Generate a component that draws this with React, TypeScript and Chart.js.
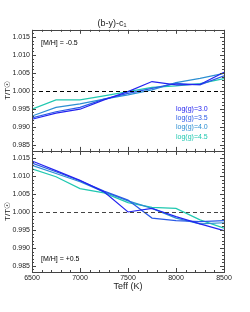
import React, { useEffect, useRef } from "react";
import { Chart, registerables } from "chart.js";
Chart.register(...registerables);

const teff = [6500, 6750, 7000, 7250, 7500, 7750, 8000, 8250, 8500];
const seriesLabels = ["log(g)=3.0", "log(g)=3.5", "log(g)=4.0", "log(g)=4.5"];
const seriesColors = ["#2323f0", "#2b5ae6", "#2c8fd2", "#20c8b0"];
// [M/H] = -0.5 (top panel)
const top30 = [0.9921, 0.9938, 0.9949, 0.9975, 0.9998, 1.0026, 1.0017, 1.0018, 1.0052];
const top35 = [0.9925, 0.9942, 0.9954, 0.9977, 0.9993, 1.0007, 1.0021, 1.0017, 1.0042];
const top40 = [0.993, 0.9954, 0.9964, 0.9977, 0.9989, 1.0003, 1.0023, 1.0035, 1.0049];
const top45 = [0.9949, 0.9975, 0.9975, 0.9986, 0.9998, 1.001, 1.0014, 1.002, 1.0034];
// [M/H] = +0.5 (bottom panel)
const bot30 = [1.0142, 1.0115, 1.0088, 1.0056, 1.0, 1.001, 0.9987, 0.9967, 0.9948];
const bot35 = [1.0136, 1.0112, 1.0087, 1.0058, 1.0033, 0.9983, 0.9976, 0.9973, 0.9976];
const bot40 = [1.013, 1.0107, 1.0084, 1.0056, 1.0031, 1.001, 0.9983, 0.9967, 0.997];
const bot45 = [1.012, 1.0098, 1.0065, 1.0053, 1.0026, 1.0013, 1.001, 0.9978, 0.9955];
const yTickValues = [0.985, 0.99, 0.995, 1.0, 1.005, 1.01, 1.015];
const xTickValues = [6500, 7000, 7500, 8000, 8500];

const FONT = "'Liberation Sans', Arial, sans-serif";

const framePlugin = {
  id: "frame",
  afterDatasetsDraw(chart: any) {
    const ctx = chart.ctx;
    const { left, right } = chart.chartArea;
    const x = chart.scales.x;
    const panels = [chart.scales.yTop, chart.scales.yBot];
    ctx.save();
    ctx.strokeStyle = "#000";
    ctx.lineWidth = 1;
    for (const ys of panels) {
      const t = ys.top, b = ys.bottom;
      ctx.save();
      ctx.setLineDash([4, 3]);
      const y1 = Math.round(ys.getPixelForValue(1.0)) + 0.5;
      ctx.beginPath();
      ctx.moveTo(left, y1);
      ctx.lineTo(right, y1);
      ctx.stroke();
      ctx.restore();
      ctx.strokeStyle = "#444";
      ctx.strokeRect(Math.round(left) + 0.5, Math.round(t) + 0.5, Math.round(right - left), Math.round(b - t));
      ctx.beginPath();
      for (let v = 6500; v <= 8500; v += 100) {
        const px = Math.round(x.getPixelForValue(v)) + 0.5;
        const len = v % 500 === 0 ? 4 : 2;
        ctx.moveTo(px, t);
        ctx.lineTo(px, t + len);
        ctx.moveTo(px, b);
        ctx.lineTo(px, b - len);
      }
      for (let k = 984; k <= 1017; k++) {
        const v = k / 1000;
        const py = Math.round(ys.getPixelForValue(v)) + 0.5;
        if (py < t || py > b) continue;
        const len = k % 5 === 0 ? 4 : 2;
        ctx.moveTo(left, py);
        ctx.lineTo(left + len, py);
        ctx.moveTo(right, py);
        ctx.lineTo(right - len, py);
      }
      ctx.stroke();
    }
    ctx.font = `7px ${FONT}`;
    ctx.fillStyle = "#000";
    ctx.textBaseline = "middle";
    ctx.textAlign = "left";
    ctx.fillText("[M/H] = -0.5", left + 9, chart.scales.yTop.top + 13);
    ctx.fillText("[M/H] = +0.5", left + 9, chart.scales.yBot.bottom - 13);
    const yTop = chart.scales.yTop;
    seriesLabels.forEach((lab, i) => {
      ctx.fillStyle = seriesColors[i];
      ctx.fillText(lab, left + 144, yTop.top + 79 + i * 9.3);
    });
    ctx.restore();
  },
};

function makeY(stackWeight: number) {
  return {
    type: "linear",
    position: "left",
    stack: "panels",
    stackWeight,
    min: 0.9833,
    max: 1.017,
    grid: { display: false, drawTicks: false },
    border: { display: false },
    afterBuildTicks(scale: any) {
      scale.ticks = yTickValues.map((v) => ({ value: v }));
    },
    afterFit(scale: any) {
      scale.width = 32;
    },
    ticks: {
      padding: 2,
      color: "#222",
      font: { family: FONT, size: 7 },
      callback: (v: any) => Number(v).toFixed(3),
    },
    title: {
      display: true,
      text: "T/T\u2609",
      color: "#222",
      font: { family: FONT, size: 8 },
      padding: { top: 3, bottom: 0 },
    },
  };
}

export default function App() {
  const ref = useRef<HTMLCanvasElement>(null);
  useEffect(() => {
    document.body.style.margin = "0";
    const mk = (vals: number[]) => vals.map((v, i) => ({ x: teff[i], y: v }));
    const topSets = [top30, top35, top40, top45];
    const botSets = [bot30, bot35, bot40, bot45];
    const datasets: any[] = [];
    topSets.forEach((s, i) =>
      datasets.push({
        label: seriesLabels[i] + " top",
        data: mk(s),
        yAxisID: "yTop",
        borderColor: seriesColors[i],
        borderWidth: 1.2,
        pointRadius: 0,
        fill: false,
      })
    );
    botSets.forEach((s, i) =>
      datasets.push({
        label: seriesLabels[i] + " bottom",
        data: mk(s),
        yAxisID: "yBot",
        borderColor: seriesColors[i],
        borderWidth: 1.2,
        pointRadius: 0,
        fill: false,
      })
    );
    const chart = new Chart(ref.current as HTMLCanvasElement, {
      type: "line",
      data: { datasets },
      plugins: [framePlugin],
      options: {
        responsive: false,
        animation: false,
        layout: { padding: { left: 0, right: 26, top: 0, bottom: 20 } },
        plugins: {
          legend: { display: false },
          tooltip: { enabled: false },
          title: {
            display: true,
            text: "(b-y)-c\u2081",
            color: "#222",
            font: { family: FONT, size: 9, weight: "normal" },
            padding: { top: 18, bottom: 1 },
          },
        },
        scales: {
          x: {
            type: "linear",
            min: 6500,
            max: 8500,
            grid: { display: false, drawTicks: false },
            border: { display: false },
            afterBuildTicks(scale: any) {
              scale.ticks = xTickValues.map((v) => ({ value: v }));
            },
            afterFit(scale: any) {
              scale.height = 20;
            },
            ticks: {
              padding: 2,
              maxRotation: 0,
              color: "#222",
              font: { family: FONT, size: 7 },
              callback: (v: any) => String(v),
            },
            title: {
              display: true,
              text: "Teff (K)",
              color: "#222",
              font: { family: FONT, size: 9 },
              padding: { top: 0, bottom: 0 },
            },
          },
          yBot: makeY(1) as any,
          yTop: makeY(1) as any,
        },
      } as any,
    });
    return () => chart.destroy();
  }, []);
  return <canvas ref={ref} width={250} height={312} style={{ display: "block" }} />;
}
